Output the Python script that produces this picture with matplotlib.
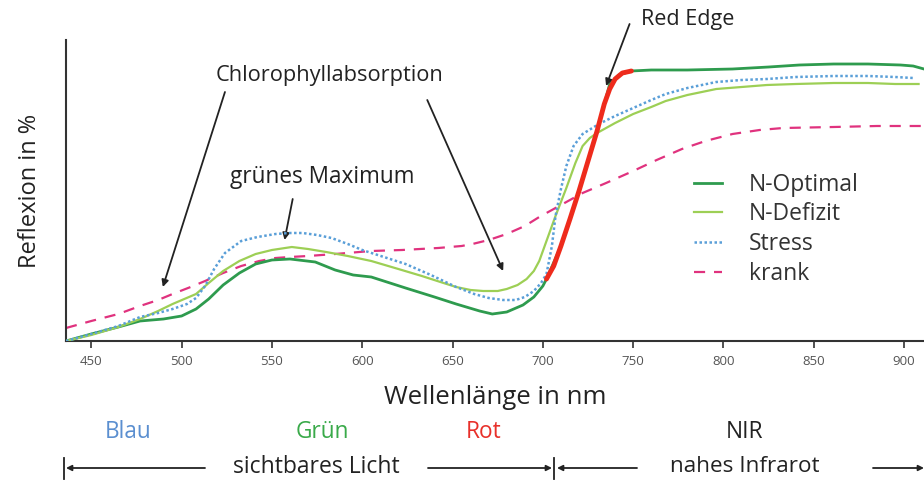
import matplotlib.pyplot as plt
import numpy as np

plt.rcParams['font.family'] = ['Open Sans', 'DejaVu Sans']

# wavelengths (nm) and reflectance (arbitrary units)
opt_nm = [436, 450, 465, 477, 490, 500, 508, 515, 523, 532, 541, 550, 560, 574, 585, 595, 605,
          624, 640, 652, 665, 672, 680, 689, 695, 700, 702, 710, 720, 730, 737, 742, 749, 760,
          780, 805, 825, 842, 861, 880, 898, 905, 911]
opt_r = [0, 7, 14, 20, 22, 25, 32, 42, 56, 68, 77, 81, 82, 79, 71, 66, 64,
         53, 44, 37, 30, 27, 29, 36, 44, 55, 62, 95, 150, 210, 257, 266, 270, 271,
         271, 272, 274, 276, 277, 277, 276, 275, 272]

def_nm = [436, 450, 465, 477, 487, 495, 508, 515, 523, 532, 541, 550, 561, 570, 580, 592, 605,
          620, 633, 645, 652, 660, 667, 675, 680, 686, 691, 695, 698, 702, 707, 713, 718, 722,
          726, 730, 740, 750, 760, 768, 780, 796, 810, 824, 840, 861, 880, 895, 908]
def_r = [0, 6, 14, 22, 30, 37, 47, 58, 70, 80, 87, 91, 94, 92, 89, 85, 80,
         72, 65, 58, 54, 51, 50, 50, 52, 56, 62, 70, 80, 100, 125, 153, 178, 195,
         203, 208, 218, 227, 234, 240, 246, 252, 254, 256, 257, 258, 258, 257, 257]

str_nm = [436, 450, 465, 477, 487, 495, 503, 508, 513, 518, 524, 533, 542, 552, 560, 567, 575,
          583, 592, 600, 612, 624, 638, 652, 662, 670, 678, 685, 690, 695, 699, 702, 705, 707,
          710, 713, 717, 722, 731, 740, 750, 760, 768, 780, 796, 810, 824, 840, 861, 880, 895, 905]
str_r = [0, 7, 15, 24, 28, 32, 37, 43, 55, 72, 88, 100, 104, 107, 108, 108, 106,
         103, 97, 91, 84, 77, 66, 54, 47, 43, 41, 41, 44, 50, 58, 67, 95, 125,
         152, 175, 195, 207, 217, 225, 233, 241, 247, 253, 259, 261, 262, 264, 265, 265, 264, 263]

kr_nm = [436, 450, 465, 477, 487, 495, 505, 513, 523, 533, 543, 552, 560, 570, 585, 605, 622,
         642, 655, 661, 670, 680, 690, 698, 704, 712, 722, 735, 750, 763, 777, 790, 805, 820,
         833, 861, 885, 910]
kr_r = [13, 20, 27, 35, 41, 47, 54, 60, 68, 75, 80, 83, 84, 85, 87, 90, 91,
        93, 95, 97, 101, 107, 115, 124, 130, 138, 148, 158, 170, 181, 192, 200, 207, 211,
        213, 214, 215, 215]

edge_nm = [702, 706, 710, 715, 720, 725, 730, 734, 737, 740, 744, 749]
edge_r = [62, 75, 95, 122, 150, 180, 210, 237, 252, 262, 268, 270]

ticks = [450, 500, 550, 600, 650, 700, 750, 800, 850, 900]

fig = plt.figure(figsize=(9.24, 4.82), dpi=100)
ax = fig.add_axes([66/924, 1-341/482, 1-66/924, 301/482])

ax.plot(opt_nm, opt_r, color='#2e9b4e', lw=2, label='N-Optimal', zorder=3)
ax.plot(def_nm, def_r, color='#9dcf55', lw=1.6, label='N-Defizit', zorder=3)
ax.plot(str_nm, str_r, color='#5a9fd8', lw=1.8, ls=(0, (1, 1)), label='Stress', zorder=4)
ax.plot(kr_nm, kr_r, color='#e0327e', lw=1.6, ls=(0, (5, 4)), label='krank', zorder=2)
ax.plot(edge_nm, edge_r, color='#ee2b1c', lw=3.5, solid_capstyle='round', zorder=5)

ax.set_xlim(436, 911)
ax.set_ylim(0, 301)
ax.set_xticks(ticks)
ax.set_yticks([])
ax.tick_params(axis='x', direction='out', length=5, width=1.2, color='#333',
               labelcolor='#555', labelsize=9.5, pad=5)
for s in ['top', 'right']:
    ax.spines[s].set_visible(False)
for s in ['left', 'bottom']:
    ax.spines[s].set_linewidth(1.5)
    ax.spines[s].set_color('#333')

ax.set_xlabel('Wellenlänge in nm', fontsize=18.5, color='#222', labelpad=12)
ax.set_ylabel('Reflexion in %', fontsize=17, color='#222', labelpad=17)

ax.legend(loc='upper left', bbox_to_anchor=(0.718, 0.597), frameon=False, fontsize=16.5,
          handlelength=1.25, handletextpad=1.15, labelspacing=0.25, borderpad=0,
          labelcolor='#333')

ap = dict(arrowstyle='-|>', color='#222', lw=1.3, mutation_scale=10, shrinkA=0, shrinkB=0)
ax.text(780, 321, 'Red Edge', fontsize=15.5, color='#222', ha='center', va='center', clip_on=False)
ax.annotate('', xy=(735, 255), xytext=(748, 317), arrowprops=ap, annotation_clip=False)
ax.text(582, 265, 'Chlorophyllabsorption', fontsize=15.7, color='#222', ha='center', va='center')
ax.annotate('', xy=(489.6, 54), xytext=(524, 249), arrowprops=ap)
ax.annotate('', xy=(678, 70), xytext=(636, 241), arrowprops=ap)
ax.text(578, 164, 'grünes Maximum', fontsize=16.3, color='#222', ha='center', va='center')
ax.annotate('', xy=(557, 101), xytext=(561.5, 142), arrowprops=ap)

def fp(x, y):
    return (x / 924, 1 - y / 482)

for lab, x, c in [('Blau', 128, '#5b8fd0'), ('Grün', 322, '#3aaa4a'),
                  ('Rot', 484, '#e8302a'), ('NIR', 745, '#222')]:
    fig.text(*fp(x, 432), lab, color=c, fontsize=16.3, ha='center', va='center')
fig.text(*fp(316, 467), 'sichtbares Licht', color='#222', fontsize=16.5, ha='center', va='center')
fig.text(*fp(745, 467), 'nahes Infrarot', color='#222', fontsize=16.2, ha='center', va='center')

bp = dict(arrowstyle='-|>', color='#222', lw=1.3, mutation_scale=8, shrinkA=0, shrinkB=0)
for x0, x1 in [(205, 66), (428, 552), (637, 557), (873, 924)]:
    fig.add_artist(plt.Annotation('', xy=fp(x1, 468), xytext=fp(x0, 468), xycoords='figure fraction',
                                  textcoords='figure fraction', arrowprops=bp))
for x in [64, 554]:
    fig.add_artist(plt.Line2D([x / 924, x / 924], [1 - 458 / 482, 1 - 479 / 482], color='#222', lw=1.3))

plt.savefig('out.png', dpi=100)
